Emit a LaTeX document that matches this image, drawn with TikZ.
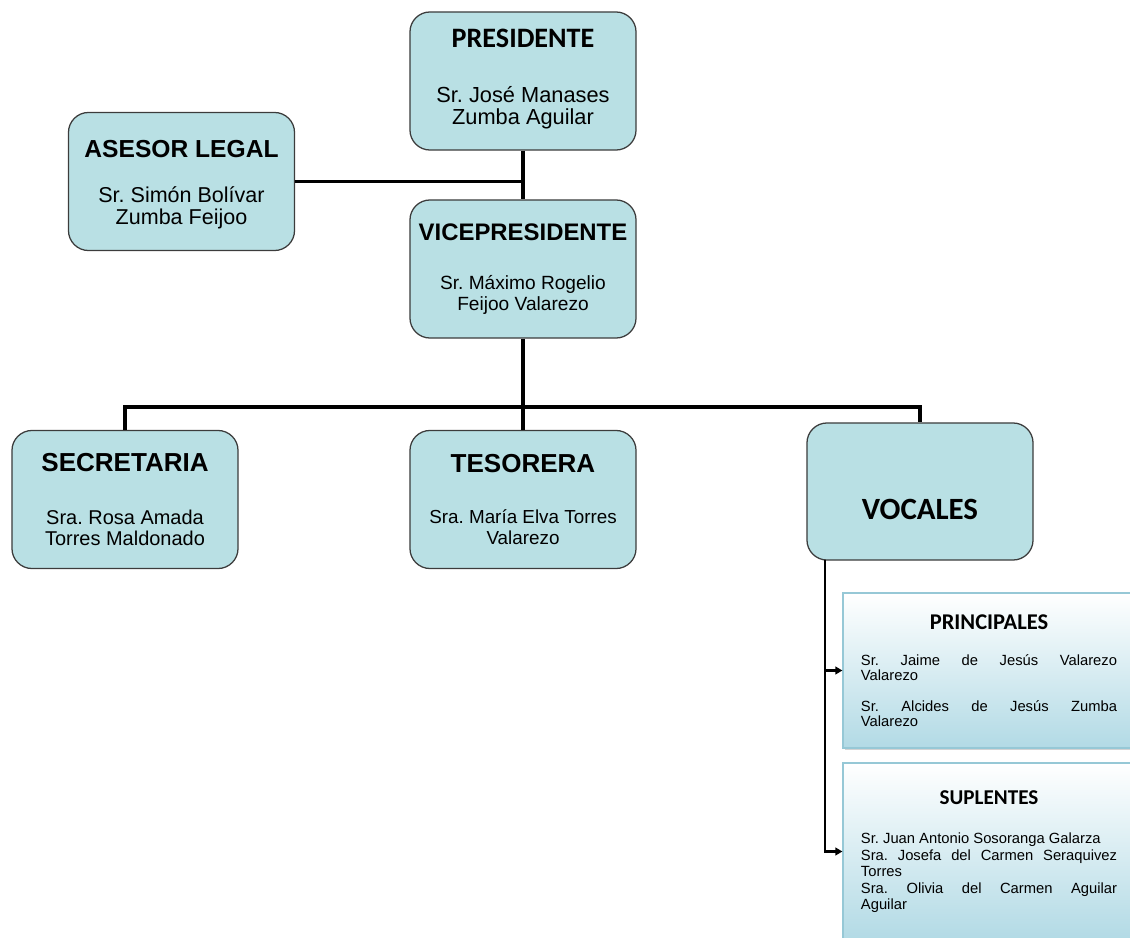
\documentclass[tikz,border=0pt]{standalone}
\usepackage{fontspec}
\setmainfont{Liberation Sans}
\newfontfamily\calibri{Carlito}
\usetikzlibrary{arrows.meta,shadows}
\frenchspacing

\definecolor{celeste}{RGB}{185,224,228}
\definecolor{borde}{RGB}{60,60,60}
\definecolor{celesteosc}{RGB}{178,218,229}
\definecolor{bordeclaro}{RGB}{150,200,214}

\newcommand{\cabeza}[2]{{\fontsize{#1}{#1}\selectfont\bfseries #2}}

\begin{document}
\begin{tikzpicture}[x=0.025cm,y=-0.025cm,
    cargo/.style={draw=borde,line width=0.9pt,fill=celeste,rounded corners=0.5cm,
      minimum width=5.65cm,minimum height=3.45cm,inner sep=0pt,align=center},
    vocal/.style={draw=bordeclaro,line width=0.8pt,top color=white,bottom color=celesteosc,
      minimum width=7.3cm,inner sep=0pt,text width=6.4cm,align=justify,
      font=\fontsize{10.5}{10.7}\selectfont,
      drop shadow={shadow xshift=1.2pt,shadow yshift=-1.2pt,opacity=0.35}},
    linea/.style={line width=2.8pt},
    rama/.style={line width=1.8pt,-{Triangle[length=5pt,width=5.5pt]}}]
  \useasboundingbox (0,0) rectangle (1130,938);

  % cargos
  \node[cargo,font=\fontsize{15.5}{15.6}\selectfont] (pres) at (523,81)
    {\cabeza{20}{\calibri PRESIDENTE}\\[23.4pt]Sr. José Manases\\Zumba Aguilar\rule[-6pt]{0pt}{0pt}};
  \node[cargo,font=\fontsize{15.3}{15.6}\selectfont] (ases) at (181.5,181.5)
    {\rule{0pt}{17pt}\cabeza{17.5}{ASESOR LEGAL}\\[16.4pt]Sr. Simón Bolívar\\Zumba Feijoo};
  \node[cargo,font=\fontsize{13.6}{15}\selectfont] (vice) at (523,269)
    {\cabeza{17}{VICEPRESIDENTE}\\[20pt]Sr. Máximo Rogelio\\Feijoo Valarezo};
  \node[cargo,font=\fontsize{14.2}{15}\selectfont] (secr) at (125,499.5)
    {\cabeza{18.5}{SECRETARIA}\\[22.7pt]Sra. Rosa Amada\\Torres Maldonado};
  \node[cargo,font=\fontsize{13.4}{15}\selectfont] (teso) at (523,499.5)
    {\cabeza{18.5}{TESORERA}\\[21pt]Sra. María Elva Torres\\Valarezo};
  \node[cargo,minimum height=3.425cm] (voca) at (920,491.5)
    {\smash{\raisebox{-20pt}{\cabeza{22}{\calibri VOCALES}}}};

  % vocales
  \node[vocal,minimum height=3.875cm] (prin) at (989,670.5)
    {{\centering\cabeza{16}{\calibri PRINCIPALES}\par}
     \vspace{15.3pt}
     Sr. Jaime de Jesús Valarezo\linebreak Valarezo\par
     \vspace{11.3pt}
     Sr. Alcides de Jesús Zumba\linebreak Valarezo\par};
  \node[vocal,minimum height=4.425cm,font=\fontsize{10.5}{11.7}\selectfont] (supl) at (989,851.5)
    {{\centering\cabeza{15}{\calibri SUPLENTES}\par}
     \vspace{16.3pt}
     Sr. Juan Antonio Sosoranga Galarza\par
     Sra. Josefa del Carmen Seraquivez\linebreak Torres\par
     Sra. Olivia del Carmen Aguilar\linebreak Aguilar\par};

  % lineas
  \coordinate (bus) at (523,407);
  \coordinate (pie) at (825,560);
  \draw[linea] (pres.south) -- (vice.north);
  \draw[linea] (ases.east) -- (pres.south |- ases.east);
  \draw[linea] (vice.south) -- (teso.north);
  \draw[linea] (secr.north) |- (bus) -| (voca.north);
  \draw[rama] (pie) |- (prin.west);
  \draw[rama] (pie) |- (supl.west);
\end{tikzpicture}
\end{document}
